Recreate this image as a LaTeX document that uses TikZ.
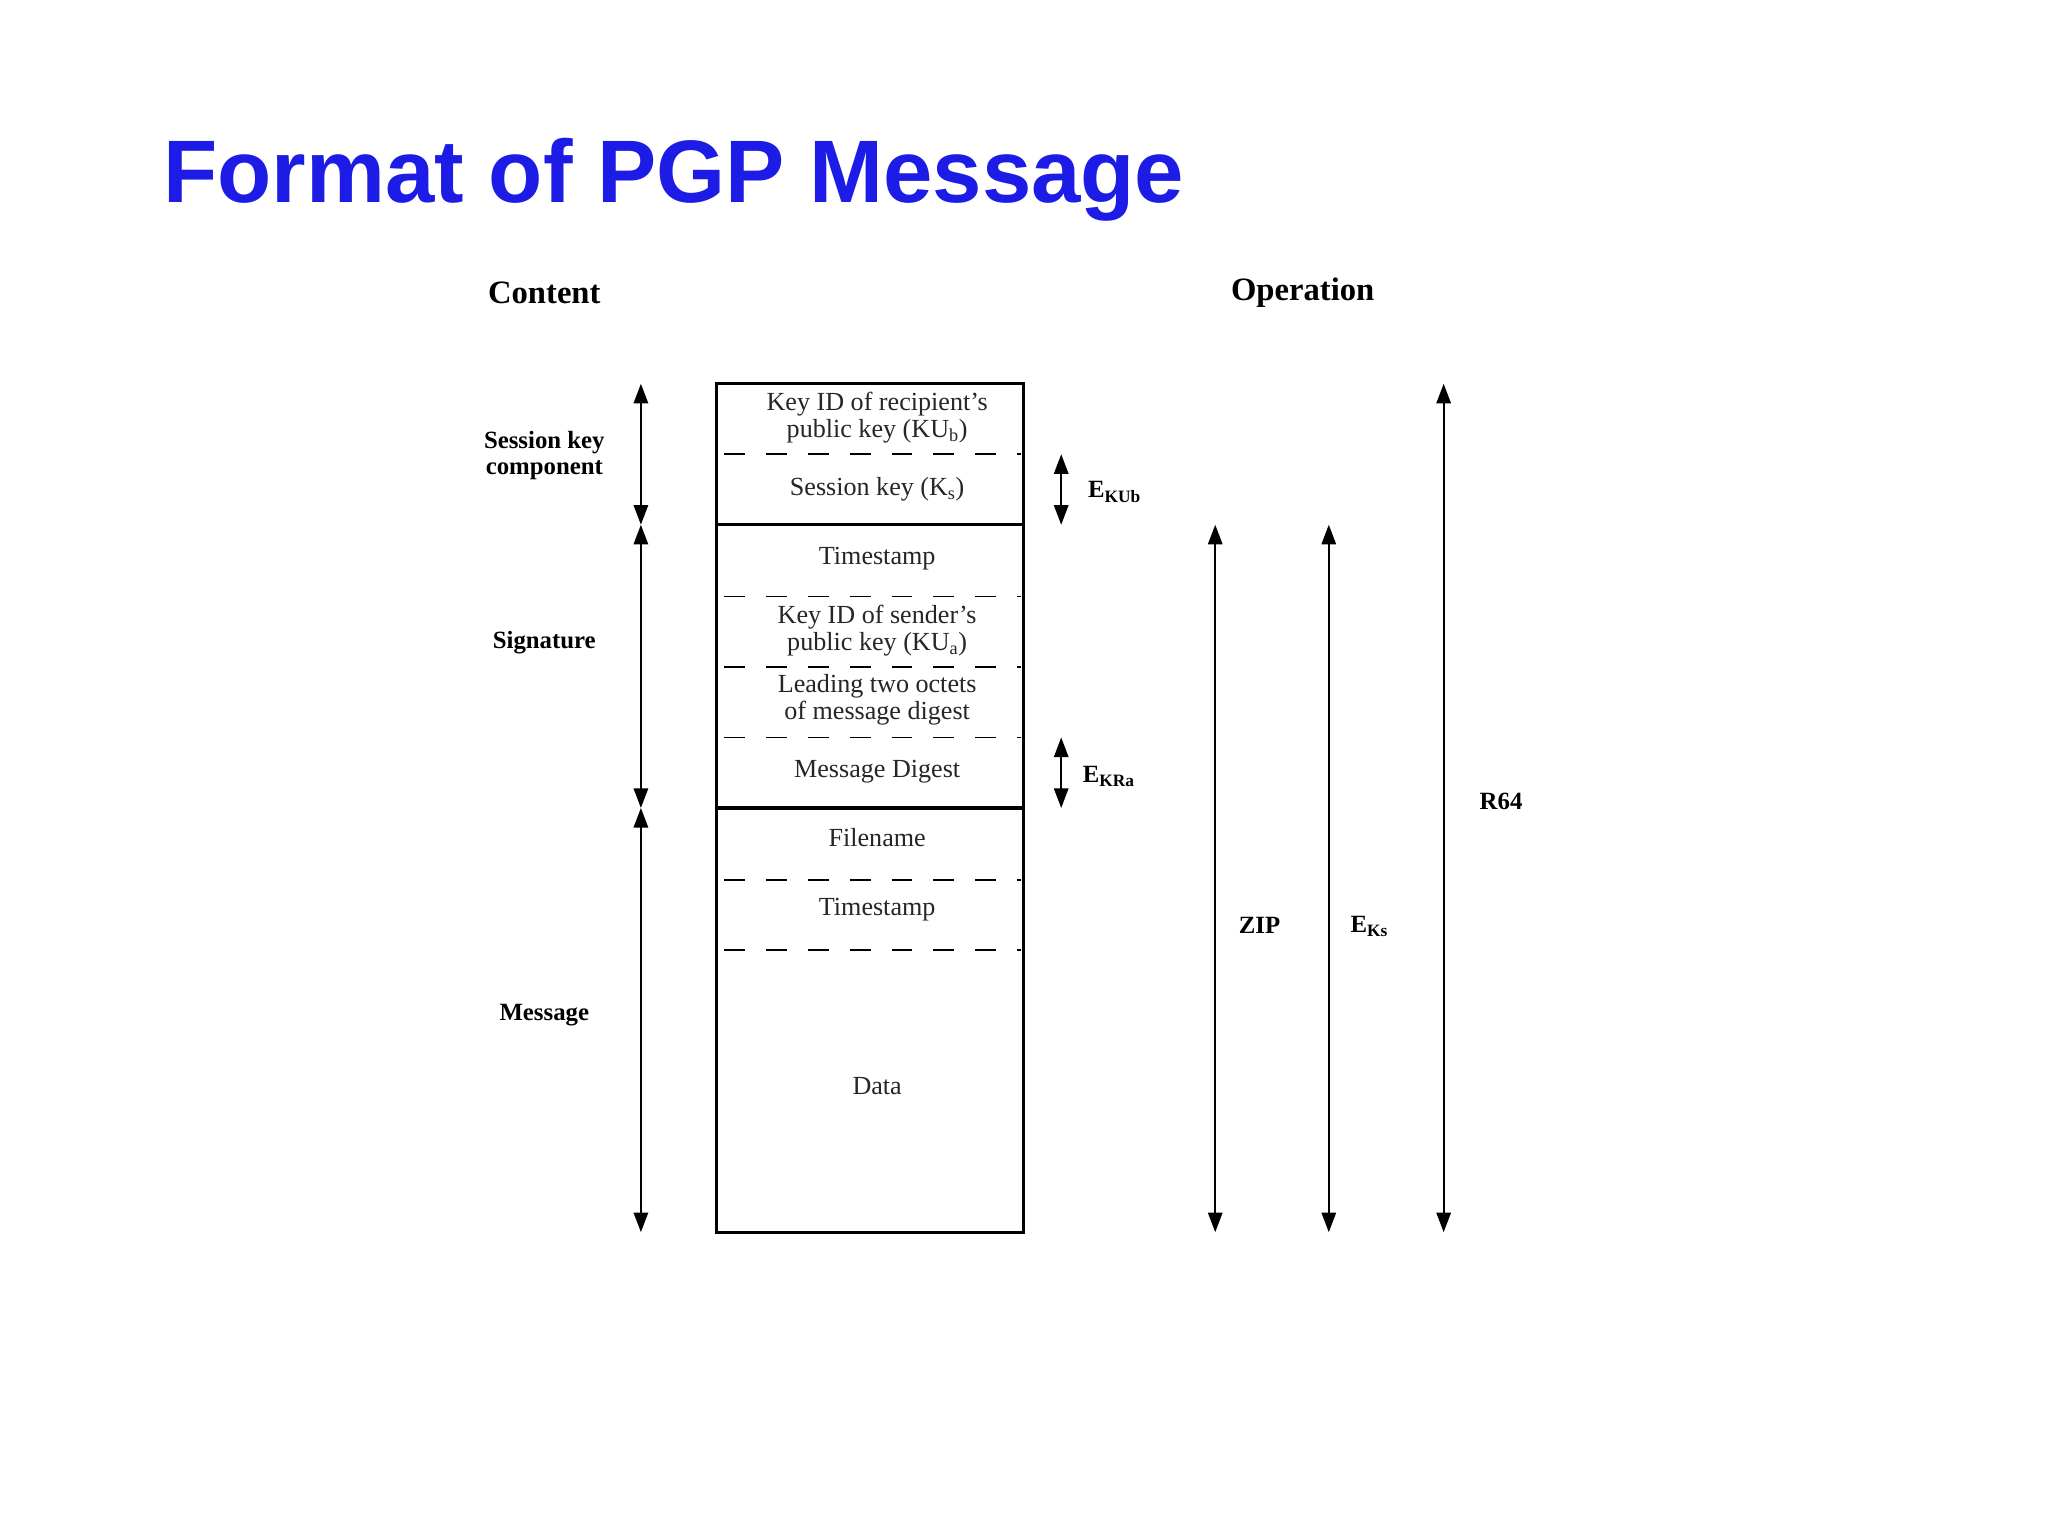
\documentclass[tikz,border=0pt]{standalone}
\usepackage{fontspec}
\setmainfont{Liberation Serif}
\newfontfamily\titlefont{Liberation Sans}
\usetikzlibrary{arrows.meta}
\begin{document}
\begin{tikzpicture}[x=1pt,y=-1pt,
  cell/.style={font=\fontsize{20}{21}\selectfont,align=center,text=black!85},
  lab/.style={font=\bfseries\fontsize{19}{20}\selectfont,align=center},
  hdr/.style={font=\bfseries\fontsize{25}{26}\selectfont},
  dim/.style={line width=1.4pt,{Triangle[length=15pt,width=11pt]}-{Triangle[length=15pt,width=11pt]}},
  dsh/.style={line width=1.3pt,dash pattern=on 16pt off 16pt,dash phase=-4pt}]
\useasboundingbox (0,0) rectangle (1569,1177);
\fill[white] (0,0) rectangle (1569,1177);
\node[anchor=base west,inner sep=0,text={rgb,255:red,28;green,28;blue,230},font=\titlefont\bfseries\fontsize{68}{68}\selectfont] (title) at (125,155) {Format of PGP Message};
\node[hdr] (hc) at (417,224) {Content};
\node[hdr] (ho) at (998,224) {Operation};
% box
\coordinate (bl) at (549,294); \coordinate (br) at (784,944);
\draw[line width=2.4pt] (bl) rectangle (br);
\foreach \y in {348,457,511,565,674,728} \draw[dsh] (551,\y) -- (782,\y);
\foreach \y in {402,619} \draw[line width=2.4pt] (549,\y) -- (784,\y);
\node[cell] (c1) at (672,320) {Key ID of recipient's\\public key (KU\textsubscript{b})};
\node[cell] (c2) at (672,375) {Session key (K\textsubscript{s})};
\node[cell] (c3) at (672,428) {Timestamp};
\node[cell] (c4) at (672,483) {Key ID of sender's\\public key (KU\textsubscript{a})};
\node[cell] (c5) at (672,536) {Leading two octets\\of message digest};
\node[cell] (c6) at (672,591) {Message Digest};
\node[cell] (c7) at (672,642) {Filename};
\node[cell] (c8) at (672,697) {Timestamp};
\node[cell] (c9) at (672,832) {Data};
% left
\coordinate (l0) at (491,294); \coordinate (l1) at (491,402); \coordinate (l2) at (491,619); \coordinate (l3) at (491,944);
\draw[dim] (l0) -- (l1); \draw[dim] (l1) -- (l2); \draw[dim] (l2) -- (l3);
\node[lab] (sk) at (417,349) {Session key\\component};
\node[lab] (sg) at (417,492) {Signature};
\node[lab] (ms) at (417,778) {Message};
% right
\coordinate (e1a) at (813,348); \coordinate (e1b) at (813,402);
\draw[dim] (e1a) -- (e1b);
\node[lab,anchor=west] (ekub) at (830,377) {E\textsubscript{KUb}};
\coordinate (e2a) at (813,565); \coordinate (e2b) at (813,619);
\draw[dim] (e2a) -- (e2b);
\node[lab,anchor=west] (ekra) at (826,595) {E\textsubscript{KRa}};
\coordinate (z1) at (931,402); \coordinate (z2) at (931,944);
\draw[dim] (z1) -- (z2);
\node[lab] (zip) at (965,709) {ZIP};
\coordinate (k1) at (1018,402); \coordinate (k2) at (1018,944);
\draw[dim] (k1) -- (k2);
\node[lab] (eks) at (1049,710) {E\textsubscript{Ks}};
\coordinate (r1) at (1106,294); \coordinate (r2) at (1106,944);
\draw[dim] (r1) -- (r2);
\node[lab] (r64) at (1150,614) {R64};
\end{tikzpicture}
\end{document}
